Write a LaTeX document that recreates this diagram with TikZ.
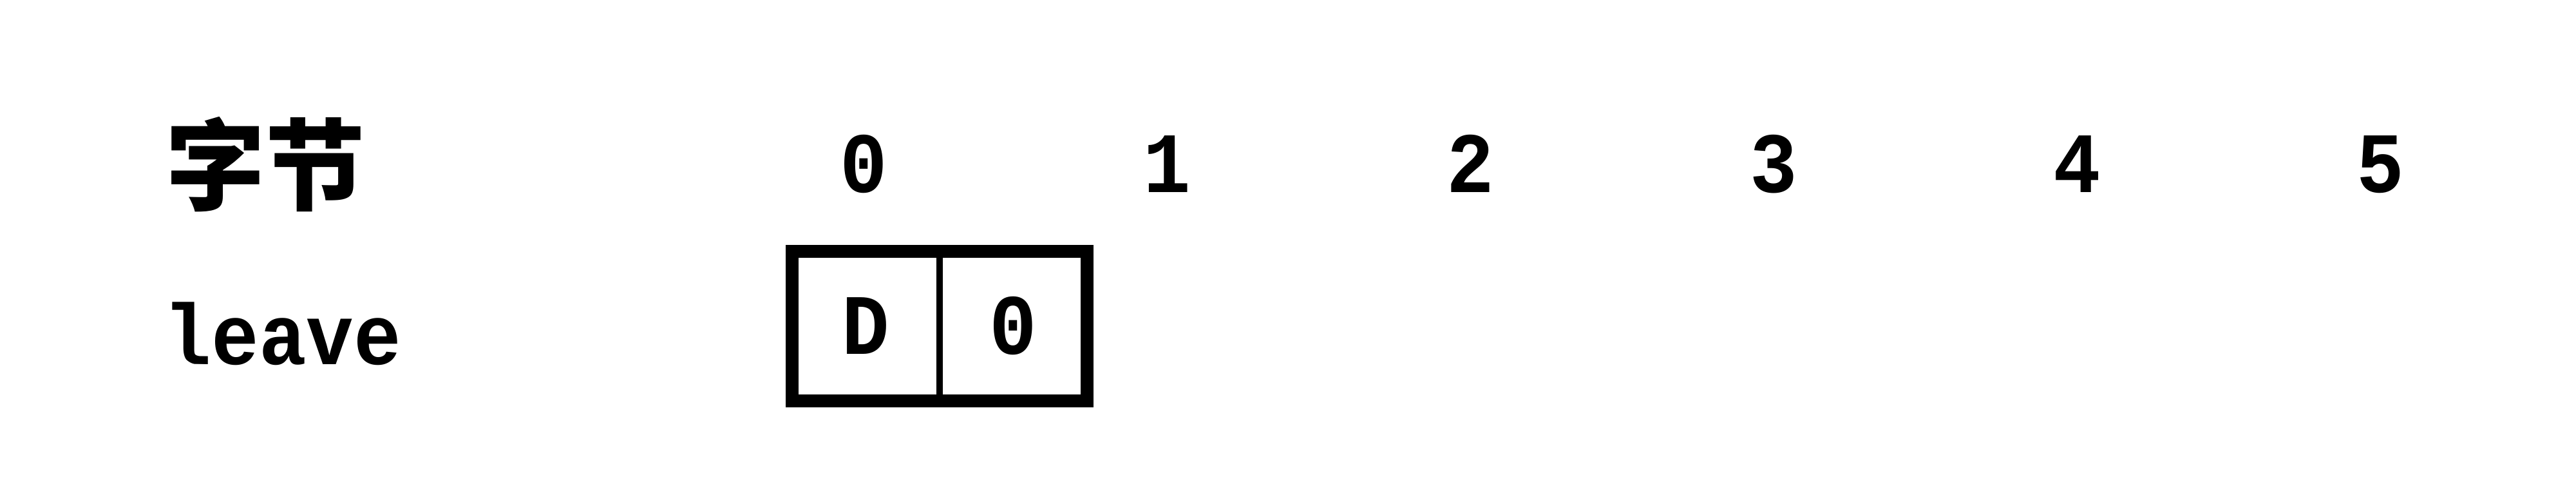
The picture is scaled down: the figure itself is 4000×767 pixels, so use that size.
\documentclass[tikz,border=0pt]{standalone}
\usepackage{fontspec}
\newfontfamily\typefont{Liberation Mono}[FakeStretch=0.92]
\newfontfamily\cjkfont{Noto Sans CJK SC}

\begin{document}
\begin{tikzpicture}[x=0.005cm, y=-0.005cm,
    txt/.style = {inner sep=0mm,font=\typefont\bfseries\fontsize{19}{22}\selectfont},
    cjk/.style = {inner sep=0mm,font=\cjkfont\bfseries\fontsize{22}{26}\selectfont},
    cell/.style = {rectangle,draw=black,line width=1.4pt,minimum width=1.145cm,minimum height=1.16cm,outer sep=0mm,txt}]
\useasboundingbox (0,0) rectangle (4000,767);
\node[cjk] (head) at (412,255) {字节};
\foreach \i in {0,...,5}
    \node[txt, anchor=base] (byte\i) at (1341+471*\i, 298) {\i};
\node[txt, anchor=base] (name) at (439,565) {leave};
\foreach \i [count=\j from 0] in {D, 0}
    \node[cell] (cell\j) at (1344.5+229*\j, 506) {\i};
\draw[line width=2.85pt] (cell0.north west) rectangle (cell1.south east);
\end{tikzpicture}
\end{document}
